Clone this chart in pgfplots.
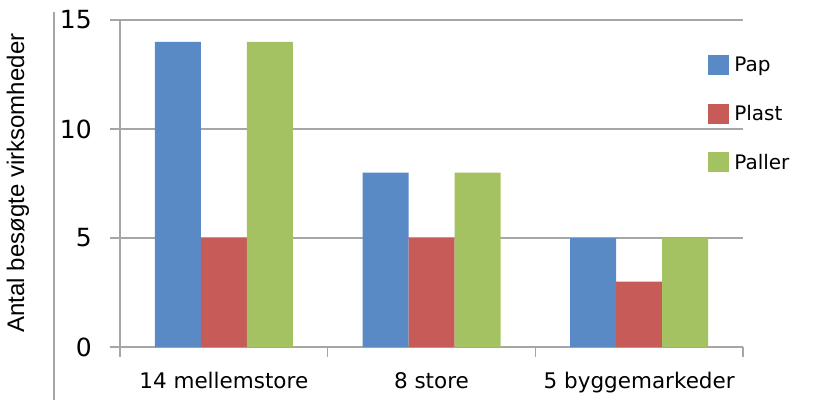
\documentclass[border=0pt]{standalone}
\usepackage{fontspec}
\setmainfont{DejaVu Sans}
\newfontfamily\arialfont{Liberation Sans}
\usepackage{pgfplots}
\pgfplotsset{compat=1.18}
\definecolor{pap}{HTML}{5A8AC6}
\definecolor{plast}{HTML}{C65B57}
\definecolor{paller}{HTML}{A5C262}
\definecolor{gridgray}{HTML}{A6A6A6}

\begin{document}
\begin{tikzpicture}[x=1pt,y=1pt]
\path[use as bounding box] (0,0) rectangle (813,400);
\draw[gridgray, line width=1.3pt] (54,0) -- (54,388);
\node[rotate=90, font=\arialfont\fontsize{24}{28}\selectfont] at (18,217) {Antal besøgte virksomheder};
\begin{axis}[
  at={(120pt,53pt)}, anchor=south west,
  scale only axis, width=623pt, height=327pt,
  ybar=0pt, bar width=46pt,
  xmin=-0.5, xmax=2.5, ymin=0, ymax=15,
  axis lines=left,
  axis line style={-, gridgray, line width=1.3pt},
  tick align=outside, major tick length=10pt,
  tick style={gridgray, line width=1.3pt},
  ytick={0,5,10,15},
  ymajorgrids, grid style={gridgray, line width=1.3pt},
  xtick={-0.5,0.5,1.5,2.5}, xticklabels={},
  extra x ticks={0,1,2},
  extra x tick labels={14 mellemstore, 8 store, 5 byggemarkeder},
  extra x tick style={major tick length=0pt, grid=none,
    xticklabel style={font=\fontsize{21.5}{26}\selectfont, anchor=north, inner sep=0pt, yshift=-25pt}},
  /pgf/number format/assume math mode=true,
  yticklabel style={font=\fontsize{25}{30}\selectfont, anchor=east, inner sep=0pt, xshift=-18pt},
  legend style={at={(0.944,0.713)}, anchor=west, draw=none, fill=none, inner sep=0pt,
    font=\fontsize{20}{24}\selectfont, row sep=28.5pt, column sep=5pt,
    nodes={inner sep=0pt}, cells={anchor=west}},
  sq/.style={legend image code/.code={\fill[##1] (0pt,-10pt) rectangle (21pt,10pt);}},
]
\addplot[fill=pap, draw=none, sq] coordinates {(0,14) (1,8) (2,5)};
\addplot[fill=plast, draw=none, sq] coordinates {(0,5) (1,5) (2,3)};
\addplot[fill=paller, draw=none, sq] coordinates {(0,14) (1,8) (2,5)};
\legend{Pap, Plast, Paller}
\end{axis}
\end{tikzpicture}
\end{document}
